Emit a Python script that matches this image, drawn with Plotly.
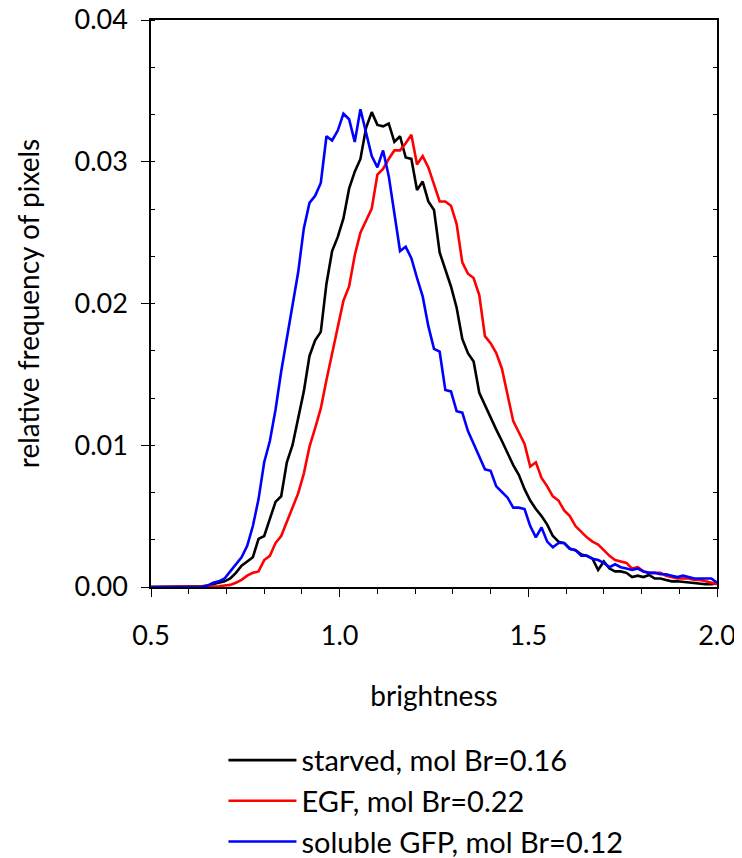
import plotly.graph_objects as go

brightness = [round(0.5 + 0.015 * i, 3) for i in range(101)]

starved = [0, 0, 0, 0, 0, 0, 0, 0, 0, 0.00005,
           0.0001, 0.0002, 0.00025, 0.0004, 0.0006, 0.0010, 0.0015, 0.0018, 0.0021, 0.0034,
           0.0036, 0.0048, 0.0060, 0.0064, 0.0088, 0.0100, 0.0119, 0.0138, 0.0163, 0.0174,
           0.0180, 0.0214, 0.0237, 0.0247, 0.0260, 0.0281, 0.0293, 0.0302, 0.0324, 0.0335,
           0.0326, 0.0325, 0.0327, 0.0314, 0.0318, 0.0303, 0.0302, 0.0280, 0.0286, 0.0272,
           0.0266, 0.0236, 0.0224, 0.0212, 0.0197, 0.0175, 0.0165, 0.0159, 0.0137, 0.0128,
           0.0119, 0.0111, 0.0103, 0.0094, 0.0086, 0.0079, 0.0069, 0.0061, 0.0055, 0.0050,
           0.0044, 0.0036, 0.0032, 0.0031, 0.0027, 0.0026, 0.0023, 0.0022, 0.0020, 0.0012,
           0.0018, 0.0013, 0.0011, 0.0011, 0.0010, 0.0007, 0.0008, 0.0007, 0.00085, 0.0006,
           0.0006, 0.0005, 0.0004, 0.0004, 0.00035, 0.0003, 0.00027, 0.00025, 0.0002, 0.0002,
           0.00025]

egf = [0, 0, 0, 0, 0, 0, 0, 0, 0, 0,
       0, 0.00003, 0.00005, 0.0001, 0.00015, 0.0003, 0.0005, 0.0008, 0.0010, 0.0011,
       0.0019, 0.0022, 0.0031, 0.0036, 0.0046, 0.0055, 0.0066, 0.0080, 0.0099, 0.0112,
       0.0126, 0.0146, 0.0164, 0.0182, 0.0202, 0.0212, 0.0234, 0.0250, 0.0258, 0.0267,
       0.0291, 0.0295, 0.0302, 0.0308, 0.0308, 0.0313, 0.0319, 0.0298, 0.0304, 0.0296,
       0.0284, 0.0272, 0.0272, 0.0269, 0.0256, 0.0229, 0.0221, 0.0218, 0.0206, 0.0177,
       0.0172, 0.0165, 0.0154, 0.0135, 0.0117, 0.0109, 0.0101, 0.0085, 0.0088, 0.0077,
       0.0071, 0.0064, 0.0061, 0.0054, 0.0050, 0.0043, 0.0039, 0.0035, 0.0032, 0.0030,
       0.0026, 0.0022, 0.0019, 0.0018, 0.0017, 0.0013, 0.0014, 0.0011, 0.0010, 0.0010,
       0.0010, 0.0008, 0.0007, 0.0006, 0.0006, 0.0006, 0.0005, 0.0005, 0.0004, 0.0003,
       0.0002]

soluble_gfp = [0, 0, 0, 0, 0, 0, 0, 0, 0, 0,
               0.0001, 0.0003, 0.0004, 0.0006, 0.0011, 0.0016, 0.0021, 0.0029, 0.0043, 0.0062,
               0.0088, 0.0103, 0.0125, 0.0152, 0.0176, 0.0198, 0.0222, 0.0253, 0.0271, 0.0276,
               0.0285, 0.0318, 0.0315, 0.0322, 0.0334, 0.0330, 0.0314, 0.0337, 0.0320, 0.0304,
               0.0296, 0.0308, 0.0290, 0.0264, 0.0237, 0.0240, 0.0232, 0.0218, 0.0205, 0.0184,
               0.0168, 0.0166, 0.0139, 0.0138, 0.0124, 0.0123, 0.0110, 0.0101, 0.0092, 0.0083,
               0.0082, 0.0071, 0.0067, 0.0063, 0.0056, 0.0056, 0.0055, 0.0043, 0.0035, 0.0042,
               0.0032, 0.0028, 0.0031, 0.0031, 0.0027, 0.0026, 0.0022, 0.0022, 0.0020, 0.0019,
               0.0017, 0.0014, 0.0016, 0.0014, 0.0013, 0.0012, 0.0013, 0.0011, 0.0010, 0.0010,
               0.0009, 0.0009, 0.0008, 0.0007, 0.0008, 0.0007, 0.0006, 0.0006, 0.0006, 0.0006,
               0.0003]

series_names = ["starved, mol Br=0.16", "EGF, mol Br=0.22", "soluble GFP, mol Br=0.12"]
series_colors = ["#000000", "#ff0000", "#0000ff"]
series_values = [starved, egf, soluble_gfp]

FONT = "Lato"

fig = go.Figure()
for name, color, vals in zip(series_names, series_colors, series_values):
    fig.add_trace(go.Scatter(x=brightness, y=vals, mode="lines", name=name,
                             line=dict(color=color, width=2.6), hoverinfo="skip"))

# invisible trace to anchor the right-hand mirror axis
fig.add_trace(go.Scatter(x=brightness, y=starved, yaxis="y2", mode="lines",
                         line=dict(color="rgba(0,0,0,0)"), showlegend=False, hoverinfo="skip"))

fig.update_layout(
    width=734, height=850,
    margin=dict(l=143, r=25, t=12, b=271),
    paper_bgcolor="white", plot_bgcolor="white",
    font=dict(family=FONT, color="black"),
    showlegend=True,
    legend=dict(x=0.128, y=0.145, xref="paper", yref="container",
                xanchor="left", yanchor="top",
                font=dict(size=29, family=FONT), bgcolor="rgba(0,0,0,0)",
                tracegroupgap=0, itemwidth=68),
    xaxis=dict(range=[0.5, 2.0], dtick=0.5, tick0=0.5, tickformat=".1f", automargin=False,
               showgrid=False, zeroline=False, showline=True, linecolor="black", linewidth=1.5,
               mirror=True, ticks="outside", ticklen=8, tickwidth=1.2, tickcolor="black",
               tickfont=dict(size=27, family=FONT), ticklabelstandoff=16,
               minor=dict(dtick=0.1, tick0=0.5, ticks="outside", ticklen=5, tickwidth=1.2, tickcolor="black"),
               title=dict(text="brightness", font=dict(size=28, family=FONT), standoff=36)),
    yaxis=dict(range=[0, 0.04], dtick=0.01, tickformat=".2f", automargin=False,
               showgrid=False, zeroline=False, showline=True, linecolor="black", linewidth=1.5,
               mirror=True, ticks="outside", ticklen=8, tickwidth=1.2, tickcolor="black",
               tickfont=dict(size=27, family=FONT), ticklabelstandoff=8, ticklabeloverflow="allow",
               minor=dict(dtick=0.01 / 3, ticks="inside", ticklen=4, tickwidth=1.2, tickcolor="black"),
               title=dict(text="relative frequency of pixels", font=dict(size=28, family=FONT), standoff=27)),
    yaxis2=dict(range=[0, 0.04], overlaying="y", side="right", anchor="x", automargin=False,
                showgrid=False, zeroline=False, showline=False, showticklabels=False,
                ticks="", dtick=0.01,
                minor=dict(dtick=0.01 / 3, ticks="inside", ticklen=4, tickwidth=1.2, tickcolor="black")),
)

fig.write_html("out.html")
